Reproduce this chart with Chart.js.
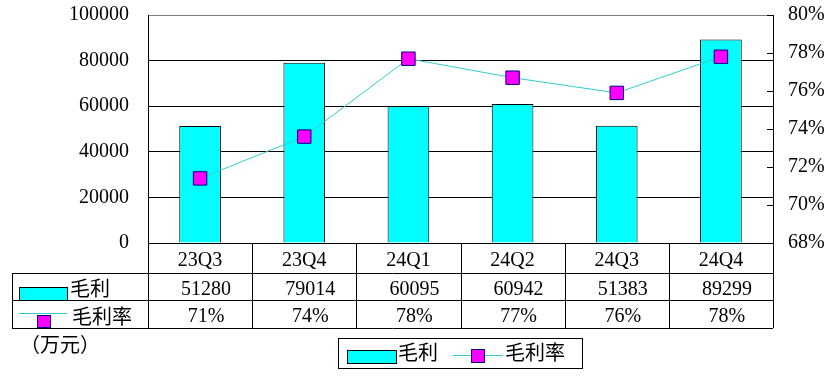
<!DOCTYPE html>
<html>
<head>
<meta charset="utf-8">
<script src="https://cdn.jsdelivr.net/npm/chart.js@4.4.1/dist/chart.umd.min.js"></script>
<style>
  body { margin: 0; background: #fff; }
  #wrap { width: 839px; height: 390px; }
</style>
</head>
<body>
<div id="wrap"><canvas id="chart" width="839" height="390"></canvas></div>
<script>
// Data
const categories = ['23Q3', '23Q4', '24Q1', '24Q2', '24Q3', '24Q4'];
const grossProfit = [51280, 79014, 60095, 60942, 51383, 89299];
const grossMargin = [71.4, 73.6, 77.7, 76.7, 75.9, 77.8];
const seriesNames = ['毛利', '毛利率'];
const unitLabel = '（万元）';

const FONT = '"Liberation Serif", "Noto Sans CJK SC", serif';
const BAR_COLOR = '#00FFFF';
const LINE_COLOR = '#33CCCC';
const MARK_COLOR = '#FF00FF';
const MARK_BORDER = '#000080';

// Table rows, legend and the inside ticks of the right axis
const tablePlugin = {
    id: 'dataTable',
    afterDraw(chart) {
        const ctx = chart.ctx;
        const x = chart.scales.x;
        const y1 = chart.scales.y1;
        const area = chart.chartArea;
        const rowTop = Math.round(area.bottom);
        const rows = [rowTop + 30, rowTop + 57, rowTop + 85];
        const left = 12;

        ctx.save();
        ctx.strokeStyle = '#000';
        ctx.lineWidth = 1;

        // right axis ticks, drawn inward
        y1.ticks.forEach(t => {
            const py = Math.round(y1.getPixelForValue(t.value)) + 0.5;
            ctx.beginPath();
            ctx.moveTo(area.right - 6, py);
            ctx.lineTo(area.right, py);
            ctx.stroke();
        });

        // horizontal table lines
        rows.forEach(r => {
            ctx.beginPath();
            ctx.moveTo(left, r + 0.5);
            ctx.lineTo(area.right, r + 0.5);
            ctx.stroke();
        });
        // vertical table lines
        ctx.beginPath();
        ctx.moveTo(left + 0.5, rows[0]);
        ctx.lineTo(left + 0.5, rows[2]);
        ctx.stroke();
        const step = (area.right - area.left) / categories.length;
        for (let i = 0; i <= categories.length; i++) {
            const cx = Math.round(area.left + i * step) + 0.5;
            ctx.beginPath();
            ctx.moveTo(cx, rowTop);
            ctx.lineTo(cx, rows[2]);
            ctx.stroke();
        }

        // values
        ctx.fillStyle = '#000';
        ctx.font = '20px ' + FONT;
        ctx.textAlign = 'center';
        ctx.textBaseline = 'middle';
        categories.forEach((c, i) => {
            const cx = x.getPixelForValue(i) + 6;
            ctx.fillText(String(grossProfit[i]), cx, (rows[0] + rows[1]) / 2 + 3);
            ctx.fillText(Math.round(grossMargin[i]) + '%', cx, (rows[1] + rows[2]) / 2 + 3);
        });

        // row labels with symbols
        ctx.fillStyle = BAR_COLOR;
        ctx.fillRect(19, 287, 48, 13);
        ctx.strokeRect(19.5, 287.5, 48, 13);
        ctx.strokeStyle = LINE_COLOR;
        ctx.beginPath();
        ctx.moveTo(19, 313.5);
        ctx.lineTo(67, 313.5);
        ctx.stroke();
        ctx.fillStyle = MARK_COLOR;
        ctx.strokeStyle = MARK_BORDER;
        ctx.fillRect(37, 315, 13, 12);
        ctx.strokeRect(37.5, 315.5, 13, 12);

        ctx.fillStyle = '#000';
        ctx.textAlign = 'left';
        ctx.fillText(seriesNames[0], 70, 291);
        ctx.fillText(seriesNames[1], 72, 319);

        // unit label
        ctx.fillText(unitLabel, 20, 347);

        // legend box
        ctx.strokeStyle = '#000';
        ctx.strokeRect(338.5, 338.5, 244, 30);
        ctx.fillStyle = BAR_COLOR;
        ctx.fillRect(347, 350, 49, 13);
        ctx.strokeRect(347.5, 350.5, 49, 13);
        ctx.strokeStyle = LINE_COLOR;
        ctx.beginPath();
        ctx.moveTo(453, 355.5);
        ctx.lineTo(503, 355.5);
        ctx.stroke();
        ctx.fillStyle = MARK_COLOR;
        ctx.strokeStyle = MARK_BORDER;
        ctx.fillRect(471, 349, 13, 13);
        ctx.strokeRect(471.5, 349.5, 13, 13);
        ctx.fillStyle = '#000';
        ctx.fillText(seriesNames[0], 398, 355);
        ctx.fillText(seriesNames[1], 505, 355);

        ctx.restore();
    }
};

new Chart(document.getElementById('chart'), {
    type: 'bar',
    data: {
        labels: categories,
        datasets: [
            {
                type: 'bar',
                label: seriesNames[0],
                data: grossProfit,
                backgroundColor: BAR_COLOR,
                borderColor: '#000',
                borderWidth: 1,
                barPercentage: 0.4,
                categoryPercentage: 1,
                yAxisID: 'y',
                order: 1
            },
            {
                type: 'line',
                label: seriesNames[1],
                data: grossMargin,
                borderColor: LINE_COLOR,
                borderWidth: 1,
                pointStyle: 'rect',
                pointRadius: 9.5,
                pointBackgroundColor: MARK_COLOR,
                pointBorderColor: MARK_BORDER,
                pointBorderWidth: 1,
                yAxisID: 'y1',
                order: 0
            }
        ]
    },
    options: {
        responsive: false,
        animation: false,
        layout: { padding: { top: 15, bottom: 117, left: 0, right: 0 } },
        plugins: {
            legend: { display: false },
            tooltip: { enabled: false }
        },
        scales: {
            x: {
                offset: true,
                grid: { display: false },
                border: { display: false },
                ticks: { color: '#000', font: { family: FONT, size: 20 }, padding: -2, maxRotation: 0 },
                afterFit: s => { s.height = 30; }
            },
            y: {
                position: 'left',
                min: 0,
                max: 100000,
                ticks: {
                    stepSize: 20000,
                    color: '#000',
                    font: { family: FONT, size: 20 },
                    padding: 0,
                    callback: v => String(v)
                },
                grid: {
                    drawTicks: true,
                    tickLength: 19,
                    tickColor: 'rgba(0,0,0,0)',
                    lineWidth: 1,
                    color: c => (c.tick && c.tick.value === 100000 ? '#808080' : '#000000')
                },
                border: { display: true, color: '#000' },
                afterFit: s => { s.width = 148; }
            },
            y1: {
                position: 'right',
                min: 68,
                max: 80,
                ticks: {
                    stepSize: 2,
                    color: '#000',
                    font: { family: FONT, size: 20 },
                    padding: 0,
                    callback: v => v + '%'
                },
                grid: {
                    drawOnChartArea: false,
                    drawTicks: true,
                    tickLength: 15,
                    tickColor: 'rgba(0,0,0,0)'
                },
                border: { display: true, color: '#000' },
                afterFit: s => { s.width = 66; }
            }
        }
    },
    plugins: [tablePlugin]
});
</script>
</body>
</html>
